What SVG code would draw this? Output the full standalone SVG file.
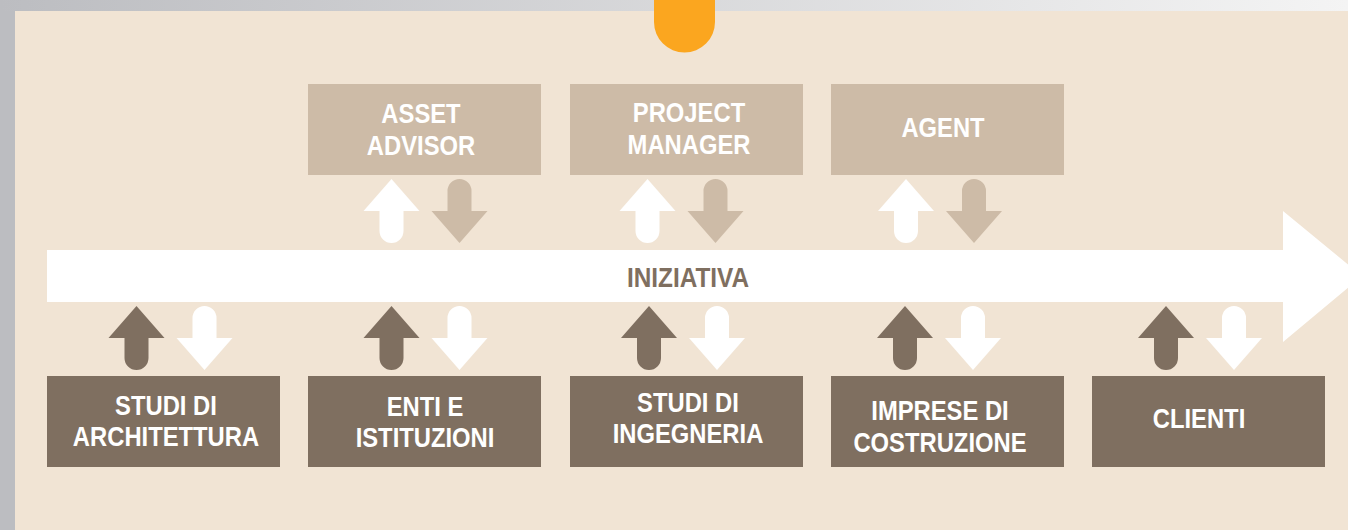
<svg xmlns="http://www.w3.org/2000/svg" width="1348" height="530" viewBox="0 0 1348 530">
<defs>
<linearGradient id="hdr" x1="0" y1="0" x2="1" y2="0">
<stop offset="0" stop-color="#bcbdc1"/>
<stop offset="1" stop-color="#f4f4f4"/>
</linearGradient>
<path id="up" d="M0,0 L28,32 L12,32 L12,52 A12,12 0 0 1 -12,52 L-12,32 L-28,32 Z"/>
<path id="down" d="M0,0 L28,-32 L12,-32 L12,-52 A12,12 0 0 0 -12,-52 L-12,-32 L-28,-32 Z"/>
</defs>
<style>
.lbl{font-family:"Liberation Sans",Arial,sans-serif;font-weight:bold;font-size:28px;fill:#ffffff;text-anchor:middle}
.main{font-family:"Liberation Sans",Arial,sans-serif;font-weight:bold;font-size:28px;fill:#7f6f60;text-anchor:middle}
.top{fill:#cdbba7}
.bot{fill:#7f6f60}
.w{fill:#ffffff}
.t{fill:#cdbba7}
.b{fill:#7f6f60}
</style>
<rect x="0" y="0" width="1348" height="530" fill="#bcbdc1"/>
<rect x="0" y="0" width="1348" height="11" fill="url(#hdr)"/>
<rect x="15" y="11" width="1333" height="519" fill="#f1e4d4"/>
<path d="M654,0 V22 A30.5,30.5 0 0 0 715,22 V0 Z" fill="#fba61f"/>

<g id="iniziativa">
<path d="M47,250 H1283 V211 L1362,276 L1283,342 V302 H47 Z" fill="#ffffff"/>
<g transform="translate(688 0) scale(0.87 1)"><text class="main" x="0" y="287">INIZIATIVA</text></g>
</g>

<g id="asset-advisor">
<rect class="top" x="308" y="84" width="233" height="91"/>
<g transform="translate(421 0) scale(0.85 1)">
<text class="lbl" x="0" y="123">ASSET</text>
<text class="lbl" x="0" y="155">ADVISOR</text>
</g>
</g>
<g id="project-manager">
<rect class="top" x="570" y="84" width="233" height="91"/>
<g transform="translate(689 0) scale(0.85 1)">
<text class="lbl" x="0" y="122">PROJECT</text>
<text class="lbl" x="0" y="154">MANAGER</text>
</g>
</g>
<g id="agent">
<rect class="top" x="831" y="84" width="233" height="91"/>
<g transform="translate(943 0) scale(0.85 1)">
<text class="lbl" x="0" y="137">AGENT</text>
</g>
</g>

<g id="studi-architettura">
<rect class="bot" x="47" y="376" width="233" height="91"/>
<g transform="translate(166 0) scale(0.85 1)">
<text class="lbl" x="0" y="415">STUDI DI</text>
<text class="lbl" x="0" y="446">ARCHITETTURA</text>
</g>
</g>
<g id="enti-istituzioni">
<rect class="bot" x="308" y="376" width="233" height="91"/>
<g transform="translate(425 0) scale(0.85 1)">
<text class="lbl" x="0" y="416">ENTI E</text>
<text class="lbl" x="0" y="447">ISTITUZIONI</text>
</g>
</g>
<g id="studi-ingegneria">
<rect class="bot" x="570" y="376" width="233" height="91"/>
<g transform="translate(688 0) scale(0.85 1)">
<text class="lbl" x="0" y="412">STUDI DI</text>
<text class="lbl" x="0" y="443">INGEGNERIA</text>
</g>
</g>
<g id="imprese-costruzione">
<rect class="bot" x="831" y="376" width="233" height="91"/>
<g transform="translate(940 0) scale(0.85 1)">
<text class="lbl" x="0" y="420">IMPRESE DI</text>
<text class="lbl" x="0" y="452">COSTRUZIONE</text>
</g>
</g>
<g id="clienti">
<rect class="bot" x="1092" y="376" width="233" height="91"/>
<g transform="translate(1199 0) scale(0.85 1)">
<text class="lbl" x="0" y="428">CLIENTI</text>
</g>
</g>

<g id="connectors">
<use href="#up" class="w" x="391.5" y="179"/>
<use href="#down" class="t" x="459.5" y="243"/>
<use href="#up" class="w" x="647.5" y="179"/>
<use href="#down" class="t" x="715.5" y="243"/>
<use href="#up" class="w" x="906" y="179"/>
<use href="#down" class="t" x="974" y="243"/>

<use href="#up" class="b" x="136.5" y="306"/>
<use href="#down" class="w" x="204.5" y="370"/>
<use href="#up" class="b" x="391.5" y="306"/>
<use href="#down" class="w" x="459.5" y="370"/>
<use href="#up" class="b" x="649" y="306"/>
<use href="#down" class="w" x="717" y="370"/>
<use href="#up" class="b" x="905" y="306"/>
<use href="#down" class="w" x="973" y="370"/>
<use href="#up" class="b" x="1166" y="306"/>
<use href="#down" class="w" x="1234" y="370"/>
</g>
</svg>
